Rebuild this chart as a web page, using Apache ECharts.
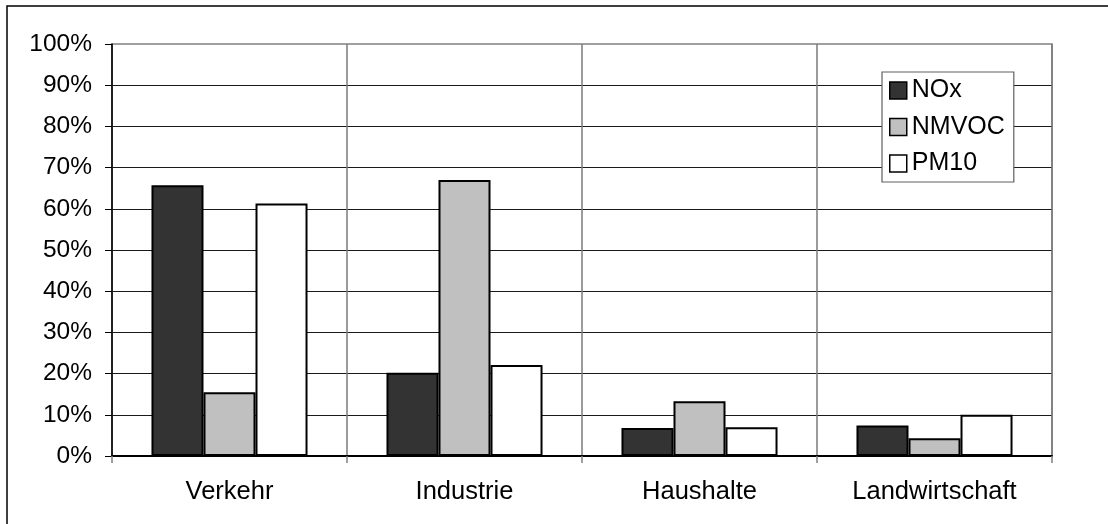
<!DOCTYPE html>
<html>
<head>
<meta charset="utf-8">
<script src="https://cdn.jsdelivr.net/npm/echarts@6/dist/echarts.min.js"></script>
<style>
html,body{margin:0;padding:0;background:#fff;}
#c{width:1108px;height:524px;}
</style>
</head>
<body>
<div id="c"></div>
<script>
var categories = ['Verkehr', 'Industrie', 'Haushalte', 'Landwirtschaft'];
var seriesNames = ['NOx', 'NMVOC', 'PM10'];
var noxValues = [65.7, 20.2, 6.8, 7.4];
var nmvocValues = [15.5, 67.0, 13.3, 4.3];
var pm10Values = [61.3, 22.1, 7.0, 10.0];
var yTicks = [0, 10, 20, 30, 40, 50, 60, 70, 80, 90, 100];

var FONT = "'Liberation Sans', Arial, sans-serif";
var colors = ['#333333', '#c0c0c0', '#ffffff'];
var values = [noxValues, nmvocValues, pm10Values];

var chart = echarts.init(document.getElementById('c'), null, {renderer: 'canvas'});
chart.setOption({
  animation: false,
  backgroundColor: '#ffffff',
  textStyle: {fontFamily: FONT},
  grid: {
    left: 112, top: 44, right: 56, bottom: 68,
    show: true, borderColor: '#808080', borderWidth: 1.5, backgroundColor: 'transparent'
  },
  legend: {
    orient: 'vertical',
    left: 882, top: 72,
    data: seriesNames,
    itemWidth: 17, itemHeight: 17, itemGap: 11.5,
    padding: [6, 9, 6, 7],
    borderColor: '#606060', borderWidth: 1.2, backgroundColor: '#ffffff',
    icon: 'rect',
    textStyle: {fontFamily: FONT, fontSize: 25, color: '#000'},
    itemStyle: {borderColor: '#000', borderWidth: 1.5}
  },
  xAxis: {
    type: 'category',
    data: categories,
    axisLine: {lineStyle: {color: '#000', width: 2}},
    axisTick: {show: true, length: 7, lineStyle: {color: '#808080', width: 1.5}},
    axisLabel: {fontFamily: FONT, fontSize: 25.5, color: '#000', margin: 23},
    splitLine: {show: true, lineStyle: {color: '#7a7a7a', width: 1.5}}
  },
  yAxis: {
    type: 'value',
    min: 0, max: 100, interval: 10,
    axisLine: {show: true, lineStyle: {color: '#000', width: 1.5}},
    axisTick: {show: true, length: 7, lineStyle: {color: '#000', width: 1}},
    axisLabel: {
      fontFamily: FONT, fontSize: 24.5, color: '#000', margin: 20,
      formatter: function (v) { return yTicks.indexOf(v) >= 0 ? v + '%' : ''; }
    },
    splitLine: {show: true, showMaxLine: false, lineStyle: {color: '#1a1a1a', width: 1}}
  },
  series: seriesNames.map(function (name, i) {
    return {
      name: name,
      type: 'bar',
      data: values[i],
      barGap: '0%',
      barCategoryGap: '33.6%',
      itemStyle: {color: colors[i], borderColor: '#000', borderWidth: 2}
    };
  }),
  graphic: [{
    type: 'rect',
    shape: {x: 7, y: 6, width: 1300, height: 700},
    style: {fill: 'none', stroke: '#000', lineWidth: 1.5},
    silent: true
  }]
});
</script>
</body>
</html>
